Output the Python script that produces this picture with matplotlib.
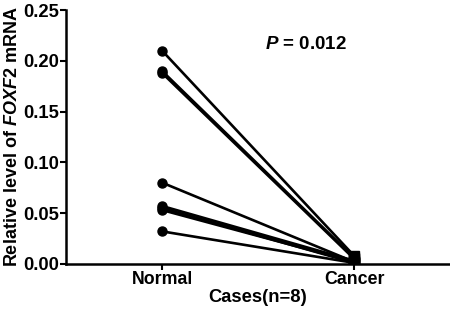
import matplotlib.pyplot as plt

plt.rcParams['font.family'] = ['Liberation Sans', 'DejaVu Sans']
plt.rcParams['font.weight'] = 'bold'
plt.rcParams['mathtext.fontset'] = 'custom'
plt.rcParams['mathtext.it'] = 'Liberation Sans:italic:bold'
plt.rcParams['mathtext.rm'] = 'Liberation Sans:bold'

# paired expression values per case
groups = ['Normal', 'Cancer']
normal = [0.210, 0.190, 0.188, 0.080, 0.057, 0.055, 0.053, 0.032]
cancer = [0.008, 0.006, 0.005, 0.002, 0.003, 0.001, 0.002, 0.001]

fig = plt.figure(figsize=(4.5, 3.16), dpi=100)
ax = fig.add_axes([0.147, 0.165, 0.853, 0.803])

for n, c in zip(normal, cancer):
    ax.plot([0, 1], [n, c], color='black', lw=1.9, zorder=2)
ax.plot([0]*len(normal), normal, 'o', color='black', ms=6.5, zorder=3)
ax.plot([1]*len(cancer), cancer, 's', color='black', ms=6.5, zorder=3)

ax.set_xlim(-0.5, 1.5)
ax.set_ylim(0, 0.25)
ax.set_xticks([0, 1])
ax.set_xticklabels(groups, fontsize=12.8, fontweight='bold')
ax.set_yticks([0, 0.05, 0.10, 0.15, 0.20, 0.25])
ax.set_yticklabels(['0.00', '0.05', '0.10', '0.15', '0.20', '0.25'], fontsize=13.3, fontweight='bold')
ax.spines['top'].set_visible(False)
ax.spines['right'].set_visible(False)
ax.spines['left'].set_linewidth(1.8)
ax.spines['bottom'].set_linewidth(1.8)
ax.tick_params(width=1.5, length=4, pad=1)

ax.set_xlabel('Cases(n=8)', fontsize=13.2, fontweight='bold', labelpad=1)
ax.set_ylabel(r'Relative level of $\it{FOXF2}$ mRNA', fontsize=13, fontweight='bold', labelpad=2)
ax.text(0.75, 0.2165, r'$\it{P}$ = 0.012', fontsize=13.5, fontweight='bold', ha='center', va='center')

fig.savefig('out.png', dpi=100)
